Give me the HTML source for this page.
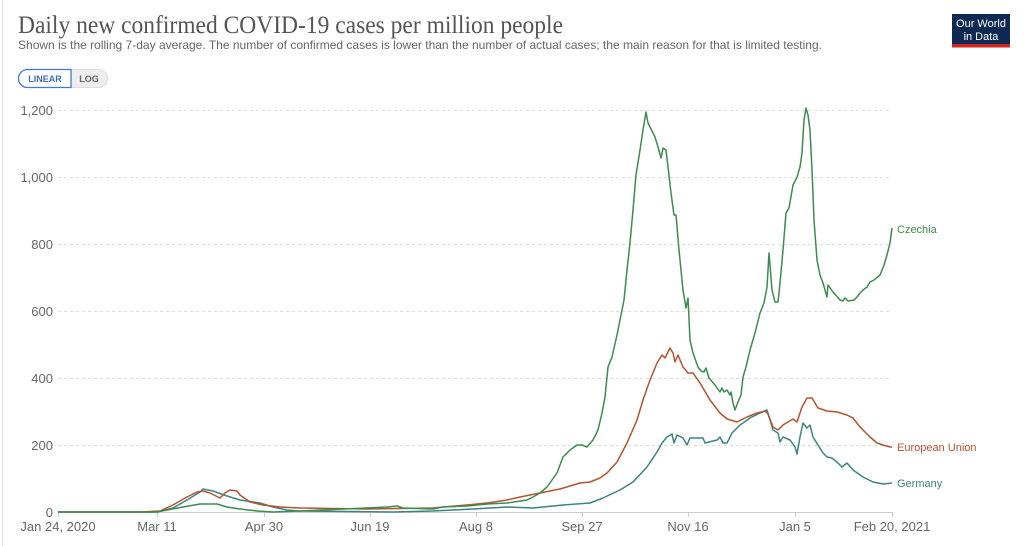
<!DOCTYPE html>
<html><head><meta charset="utf-8"><style>
html,body{margin:0;padding:0;background:#fff;}
svg{display:block;}
text{font-family:"Liberation Sans",sans-serif;}
</style></head><body>
<svg width="1024" height="546" viewBox="0 0 1024 546" xmlns="http://www.w3.org/2000/svg">
<rect x="0" y="0" width="1024" height="546" fill="#fff"/>
<line x1="2.5" y1="0" x2="2.5" y2="546" stroke="#e4e4e4" stroke-width="1"/>
<text x="18" y="33" font-family="Liberation Serif, serif" font-size="25" fill="#555" textLength="545" lengthAdjust="spacingAndGlyphs" style="font-family:'Liberation Serif',serif">Daily new confirmed COVID-19 cases per million people</text>
<text x="18" y="49" font-size="12" fill="#666" textLength="804" lengthAdjust="spacingAndGlyphs">Shown is the rolling 7-day average. The number of confirmed cases is lower than the number of actual cases; the main reason for that is limited testing.</text>
<!-- logo -->
<rect x="952" y="14" width="58" height="33" fill="#0f2a52"/>
<rect x="952" y="44" width="58" height="3.5" fill="#ce261e"/>
<text x="981" y="27" font-size="11" fill="#fff" text-anchor="middle">Our World</text>
<text x="981" y="40" font-size="11" fill="#fff" text-anchor="middle">in Data</text>
<!-- toggle -->
<rect x="18.5" y="69.5" width="89" height="18" rx="9" fill="#eeeeee" stroke="#dddddd"/>
<path d="M27.5 69.5 H71 V87.5 H27.5 A9 9 0 0 1 27.5 69.5 Z" fill="#fff" stroke="#3e7ad4" stroke-width="1.3"/>
<text x="45" y="82" font-size="9" font-weight="bold" fill="#3e6fb8" text-anchor="middle">LINEAR</text>
<text x="89" y="82" font-size="9" font-weight="bold" fill="#666" text-anchor="middle">LOG</text>
<!-- grid -->
<g stroke="#dcdcdc" stroke-width="1" stroke-dasharray="3,3">
<line x1="58" y1="110.5" x2="892" y2="110.5"/>
<line x1="58" y1="177.5" x2="892" y2="177.5"/>
<line x1="58" y1="244.5" x2="892" y2="244.5"/>
<line x1="58" y1="311.5" x2="892" y2="311.5"/>
<line x1="58" y1="378.5" x2="892" y2="378.5"/>
<line x1="58" y1="445.5" x2="892" y2="445.5"/>
</g>
<g font-size="13" fill="#666" text-anchor="end">
<text x="53" y="115">1,200</text>
<text x="53" y="182">1,000</text>
<text x="53" y="249">800</text>
<text x="53" y="316">600</text>
<text x="53" y="383">400</text>
<text x="53" y="450">200</text>
<text x="53" y="517">0</text>
</g>
<line x1="58" y1="512.5" x2="892" y2="512.5" stroke="#ccc"/>
<g stroke="#ccc">
<line x1="58.5" y1="512" x2="58.5" y2="517"/>
<line x1="157.5" y1="512" x2="157.5" y2="517"/>
<line x1="264.5" y1="512" x2="264.5" y2="517"/>
<line x1="370.5" y1="512" x2="370.5" y2="517"/>
<line x1="476.5" y1="512" x2="476.5" y2="517"/>
<line x1="582.5" y1="512" x2="582.5" y2="517"/>
<line x1="688.5" y1="512" x2="688.5" y2="517"/>
<line x1="795.5" y1="512" x2="795.5" y2="517"/>
<line x1="892.5" y1="512" x2="892.5" y2="517"/>
</g>
<g font-size="13" fill="#666" text-anchor="middle">
<text x="58" y="531">Jan 24, 2020</text>
<text x="157" y="531">Mar 11</text>
<text x="264" y="531">Apr 30</text>
<text x="370" y="531">Jun 19</text>
<text x="476" y="531">Aug 8</text>
<text x="582" y="531">Sep 27</text>
<text x="688" y="531">Nov 16</text>
<text x="795" y="531">Jan 5</text>
<text x="892" y="531">Feb 20, 2021</text>
</g>
<g fill="none" stroke-width="1.5" stroke-linejoin="round">
<!-- Germany -->
<polyline stroke="#3a8580" points="58,512 157,512 173,508 187,500 200,492 203,489 213,491 227,496 240,500 260,503 273,507 287,510 300,511 393,512 433,511 473,509 507,507 533,508 563,505 590,503 603,498 620,490 633,482 647,467 657,452 662,443 667,437 672,434 674,443 677,435 683,438 687,445 690,438 703,438 705,443 717,440 720,437 723,443 727,443 732,433 740,425 743,423 750,418 760,413 767,410 770,420 773,430 778,433 780,442 783,437 790,440 795,447 797,454 800,437 803,423 807,428 810,425 813,437 818,445 823,453 827,457 832,458 837,462 842,467 847,463 853,470 863,477 873,482 883,484 892,483"/>
<!-- EU -->
<polyline stroke="#b5532f" points="58,512 140,512 160,511 173,505 187,497 197,492 203,491 210,493 220,498 225,493 230,490 237,491 240,495 250,502 263,505 280,507 300,508 367,509 433,508 443,507 467,505 487,503 507,500 520,497 540,493 560,489 580,483 590,482 600,478 607,473 617,462 627,443 637,420 643,400 650,380 657,363 662,355 665,358 670,348 673,353 675,362 678,355 683,367 688,373 693,373 700,383 710,400 720,413 727,419 737,422 747,417 757,413 765,411 768,414 773,427 778,430 783,425 793,419 797,422 802,407 807,398 812,398 818,408 827,411 837,412 847,415 853,418 860,427 870,437 877,443 883,445 890,447 892,447"/>
<!-- Czechia -->
<polyline stroke="#3d8b4f" points="58,512 157,512 167,510 183,507 200,504 217,504 227,507 240,509 257,511 273,512 300,511 387,507 397,506 403,508 433,509 443,507 467,506 487,504 507,503 527,500 533,497 540,493 547,487 557,473 563,457 570,450 577,445 582,445 587,447 593,440 598,430 602,413 605,397 608,367 612,357 617,335 624,300 627,270 630,243 633,210 636,175 640,150 643,130 646,112 648,123 655,137 658,147 661,158 663,148 666,150 668,167 671,193 674,215 676,215 679,250 683,290 686,308 688,298 690,340 693,353 698,367 701,371 704,372 706,368 709,378 715,385 720,392 722,388 724,392 727,390 730,395 731,392 733,403 735,410 738,402 741,395 743,377 746,367 750,350 755,333 760,313 764,303 767,287 769,253 772,290 775,302 778,302 780,283 783,250 786,213 789,208 793,185 797,177 800,167 802,153 804,120 806,108 808,115 810,130 812,170 814,220 817,260 820,275 823,283 827,297 828,285 833,292 840,300 843,301 845,298 848,301 854,300 857,297 860,293 863,290 867,287 870,282 874,280 880,275 884,265 887,255 890,243 892,228"/>
</g>
<g font-size="11">
<text x="897" y="233" fill="#3d8b4f">Czechia</text>
<text x="897" y="451" fill="#b5532f">European Union</text>
<text x="897" y="487" fill="#3a8580">Germany</text>
</g>
</svg>
</body></html>
